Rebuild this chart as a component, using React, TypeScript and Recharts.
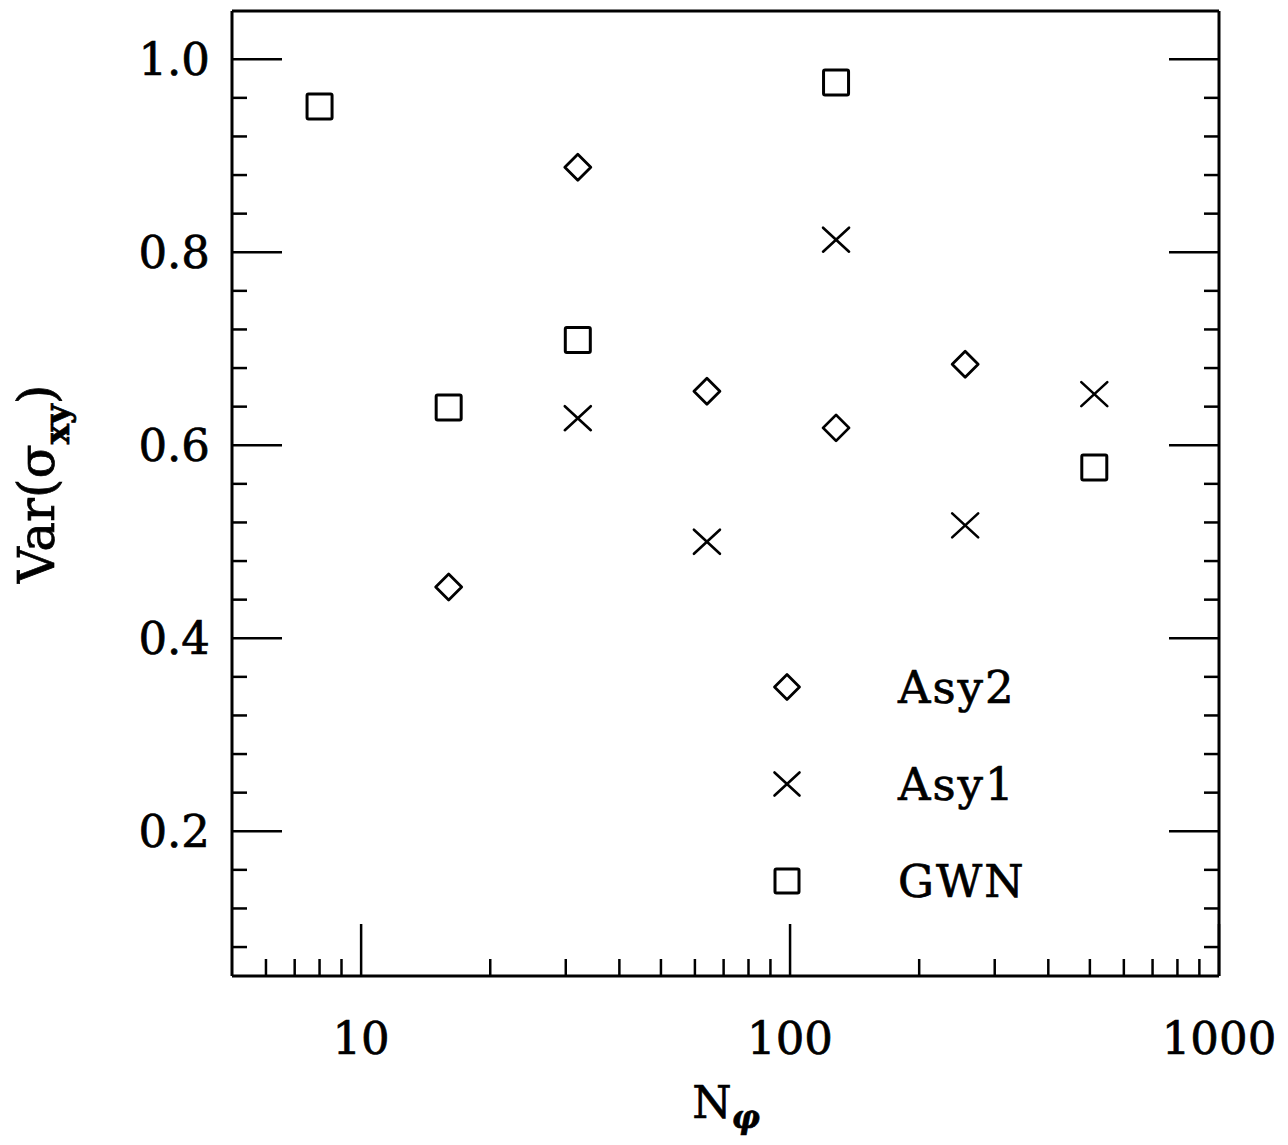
import React from "react";
import { ScatterChart, Scatter, XAxis, YAxis, Legend } from "recharts";

// N_phi values and Var(sigma_xy) for each run
const nPhiAsy2 = [16, 32, 64, 128, 256];
const varAsy2 = [0.453, 0.888, 0.656, 0.618, 0.684];
const nPhiAsy1 = [32, 64, 128, 256, 512];
const varAsy1 = [0.628, 0.5, 0.813, 0.517, 0.653];
const nPhiGWN = [8, 16, 32, 128, 512];
const varGWN = [0.951, 0.639, 0.709, 0.976, 0.577];

const seriesNames = ["Asy2", "Asy1", "GWN"];

const xMajorTicks = [10, 100, 1000];
const xMinorTicks = [6, 7, 8, 9, 20, 30, 40, 50, 60, 70, 80, 90, 200, 300, 400, 500, 600, 700, 800, 900];
const yMajorTicks = [0.2, 0.4, 0.6, 0.8, 1.0];
const yMinorTicks = [
  0.08, 0.12, 0.16, 0.24, 0.28, 0.32, 0.36, 0.44, 0.48, 0.52, 0.56, 0.64, 0.68, 0.72, 0.76, 0.84, 0.88, 0.92, 0.96,
];

const FONT = "'DejaVu Serif', serif";
const INK = "#000";
// the scanned original has slightly heavier glyphs
const textInk = { fill: INK, stroke: INK, strokeWidth: 0.7 };

const toPoints = (xs: number[], ys: number[]) => xs.map((x, i) => ({ x, y: ys[i] }));

const isMajorX = (v: number) => xMajorTicks.includes(v);
const isMajorY = (v: number) => yMajorTicks.some((t) => Math.abs(t - v) < 1e-9);

// --- marker shapes ---
const Diamond = ({ cx, cy, r = 13 }: any) => (
  <polygon
    points={`${cx},${cy - r} ${cx + r},${cy} ${cx},${cy + r} ${cx - r},${cy}`}
    fill="none"
    stroke={INK}
    strokeWidth={2.8}
    strokeLinejoin="round"
  />
);
const Cross = ({ cx, cy, r = 13 }: any) => (
  <g stroke={INK} strokeWidth={2.6} strokeLinecap="round">
    <line x1={cx - r} y1={cy - r + 1} x2={cx + r} y2={cy + r - 1} />
    <line x1={cx - r} y1={cy + r - 1} x2={cx + r} y2={cy - r + 1} />
  </g>
);
const Square = ({ cx, cy, r = 12.5 }: any) => (
  <rect x={cx - r} y={cy - r} width={2 * r} height={2 * r} rx={1.5} fill="none" stroke={INK} strokeWidth={3} />
);

const shapes: Record<string, any> = { Asy2: Diamond, Asy1: Cross, GWN: Square };

// --- ticks (drawn inward) ---
const BottomTick = ({ x, y, payload }: any) => {
  const major = isMajorX(payload.value);
  return (
    <g>
      <line x1={x} y1={y} x2={x} y2={y - (major ? 52 : 17)} stroke={INK} strokeWidth={2.5} />
      {major && (
        <text x={x} y={y + 78} textAnchor="middle" fontFamily={FONT} fontSize={45} {...textInk}>
          {payload.value}
        </text>
      )}
    </g>
  );
};
const TopTick = ({ x, y, payload }: any) => {
  const major = isMajorX(payload.value);
  return <line x1={x} y1={y} x2={x} y2={y + (major ? 52 : 17)} stroke={INK} strokeWidth={2.5} />;
};
const LeftTick = ({ x, y, payload }: any) => {
  const major = isMajorY(payload.value);
  return (
    <g>
      <line x1={x} y1={y} x2={x + (major ? 50 : 15)} y2={y} stroke={INK} strokeWidth={2.5} />
      {major && (
        <text x={x - 22} y={y} dy="0.36em" textAnchor="end" fontFamily={FONT} fontSize={45} {...textInk}>
          {payload.value.toFixed(1)}
        </text>
      )}
    </g>
  );
};
const RightTick = ({ x, y, payload }: any) => {
  const major = isMajorY(payload.value);
  return <line x1={x} y1={y} x2={x - (major ? 50 : 15)} y2={y} stroke={INK} strokeWidth={2.5} />;
};

const XLabel = () => (
  <text x={726} y={1118} textAnchor="middle" fontFamily={FONT} fontSize={45} {...textInk}>
    N
    <tspan dy={10} fontSize={31} fontWeight="bold" fontStyle="italic">
      φ
    </tspan>
  </text>
);

const YLabel = () => (
  <text
    x={54}
    y={484}
    transform="rotate(-90, 54, 484)"
    textAnchor="middle"
    fontFamily={FONT}
    fontSize={50}
    {...textInk}
  >
    Var(σ
    <tspan dy={15} fontSize={34} fontWeight="bold">
      xy
    </tspan>
    <tspan dy={-15}>)</tspan>
  </text>
);

const LegendBox = () => (
  <svg width={300} height={270}>
    {seriesNames.map((name, i) => {
      const Shape = shapes[name];
      const cy = 32 + i * 97;
      return (
        <g key={name}>
          <Shape cx={27} cy={cy} r={name === "GWN" ? 12 : 12.5} />
          <text x={138} y={cy + 16} fontFamily={FONT} fontSize={45} letterSpacing={2} {...textInk}>
            {name}
          </text>
        </g>
      );
    })}
  </svg>
);

const axisLine = { stroke: INK, strokeWidth: 3 };

export default function App() {
  const dataAsy2 = toPoints(nPhiAsy2, varAsy2);
  const dataAsy1 = toPoints(nPhiAsy1, varAsy1);
  const dataGWN = toPoints(nPhiGWN, varGWN);
  const xTicks = [...xMinorTicks, ...xMajorTicks].sort((a, b) => a - b);
  const yTicks = [...yMinorTicks, ...yMajorTicks].sort((a, b) => a - b);

  return (
    <div style={{ position: "absolute", left: 0, top: 0, background: "#fff" }}>
      <ScatterChart width={1288} height={1145} margin={{ top: 10, right: 68, bottom: 69, left: 132 }}>
        <XAxis
          xAxisId="bottom"
          dataKey="x"
          type="number"
          scale="log"
          domain={[5, 1000]}
          allowDataOverflow
          ticks={xTicks}
          interval={0}
          tickSize={0}
          tickMargin={0}
          tickLine={false}
          axisLine={axisLine}
          tick={BottomTick}
          height={100}
          label={XLabel}
        />
        <XAxis
          xAxisId="top"
          orientation="top"
          type="number"
          scale="log"
          domain={[5, 1000]}
          allowDataOverflow
          ticks={xTicks}
          interval={0}
          tickSize={0}
          tickMargin={0}
          tickLine={false}
          axisLine={axisLine}
          tick={TopTick}
          height={1}
        />
        <YAxis
          yAxisId="left"
          dataKey="y"
          type="number"
          domain={[0.05, 1.05]}
          allowDataOverflow
          ticks={yTicks}
          interval={0}
          tickSize={0}
          tickMargin={0}
          tickLine={false}
          axisLine={axisLine}
          tick={LeftTick}
          width={100}
          label={YLabel}
        />
        <YAxis
          yAxisId="right"
          orientation="right"
          type="number"
          domain={[0.05, 1.05]}
          allowDataOverflow
          ticks={yTicks}
          interval={0}
          tickSize={0}
          tickMargin={0}
          tickLine={false}
          axisLine={axisLine}
          tick={RightTick}
          width={1}
        />
        <Legend
          layout="vertical"
          align="center"
          verticalAlign="middle"
          content={LegendBox}
          wrapperStyle={{ left: 760, top: 655, width: 300, height: 270 }}
        />
        <Scatter name="Asy2" data={dataAsy2} xAxisId="bottom" yAxisId="left" shape={Diamond} isAnimationActive={false} />
        <Scatter name="Asy1" data={dataAsy1} xAxisId="bottom" yAxisId="left" shape={Cross} isAnimationActive={false} />
        <Scatter name="GWN" data={dataGWN} xAxisId="bottom" yAxisId="left" shape={Square} isAnimationActive={false} />
      </ScatterChart>
    </div>
  );
}
